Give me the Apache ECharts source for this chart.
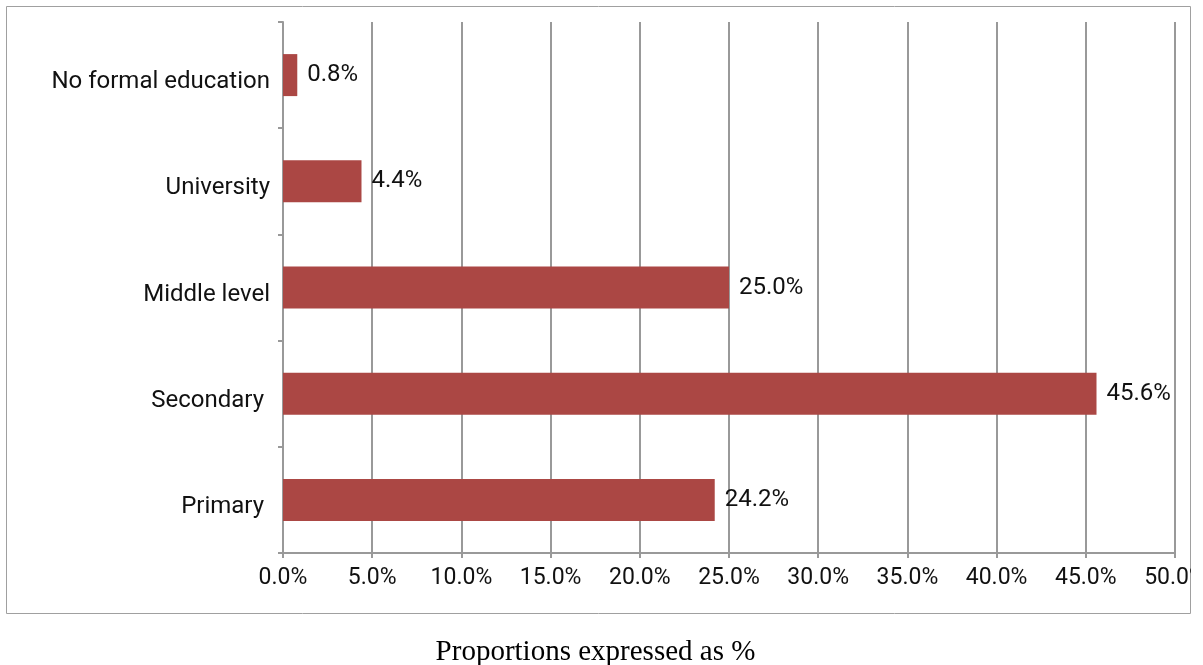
<!DOCTYPE html>
<html>
<head>
<meta charset="utf-8">
<script src="https://cdn.jsdelivr.net/npm/echarts@6/dist/echarts.min.js"></script>
<style>
html,body{margin:0;padding:0;background:#fff;}
#chart{width:1191px;height:665px;}
</style>
</head>
<body>
<div id="chart"></div>
<script>
const categories = ['No formal education', 'University', 'Middle level', 'Secondary ', 'Primary '];
const values = [0.8, 4.4, 25.0, 45.6, 24.2];
const xTicks = { min: 0, max: 50, interval: 5 };
const titleText = 'Proportions expressed as %';

const chart = echarts.init(document.getElementById('chart'), null, { renderer: 'canvas' });
chart.setOption({
  backgroundColor: '#ffffff',
  animation: false,
  title: {
    text: titleText,
    left: 'center',
    top: 633,
    textStyle: { fontFamily: '"Liberation Serif", "Times New Roman", serif', fontSize: 29, fontWeight: 'normal', color: '#000' }
  },
  graphic: [{
    type: 'rect',
    shape: { x: 6.5, y: 6.5, width: 1184, height: 607 },
    style: { fill: 'none', stroke: '#a0a0a0', lineWidth: 1 },
    silent: true
  }],
  grid: { left: 283, right: 16, top: 22, bottom: 112, containLabel: false, outerBoundsMode: 'none' },
  xAxis: {
    type: 'value',
    min: xTicks.min, max: xTicks.max, interval: xTicks.interval,
    axisLine: { show: true, lineStyle: { color: '#999', width: 2 } },
    axisTick: { show: true, length: 5, lineStyle: { color: '#999', width: 2 } },
    splitLine: { show: true, lineStyle: { color: '#999', width: 2 } },
    axisLabel: {
      margin: 14,
      formatter: v => v.toFixed(1) + '%',
      fontFamily: 'Roboto', fontSize: 23, color: '#111'
    }
  },
  yAxis: {
    type: 'category',
    data: categories,
    inverse: true,
    axisLine: { show: true, lineStyle: { color: '#999', width: 2 } },
    axisTick: { show: true, length: 5, lineStyle: { color: '#999', width: 2 } },
    axisLabel: { margin: 13, verticalAlign: 'top', lineHeight: 14, fontFamily: 'Roboto', fontSize: 24, color: '#111' }
  },
  series: [{
    type: 'bar',
    data: values,
    barWidth: 42,
    itemStyle: { color: '#AB4744' },
    label: {
      show: true, position: 'right', distance: 10,
      formatter: p => p.value.toFixed(1) + '%',
      fontFamily: 'Roboto', fontSize: 24, color: '#111'
    }
  }]
});
</script>
</body>
</html>
